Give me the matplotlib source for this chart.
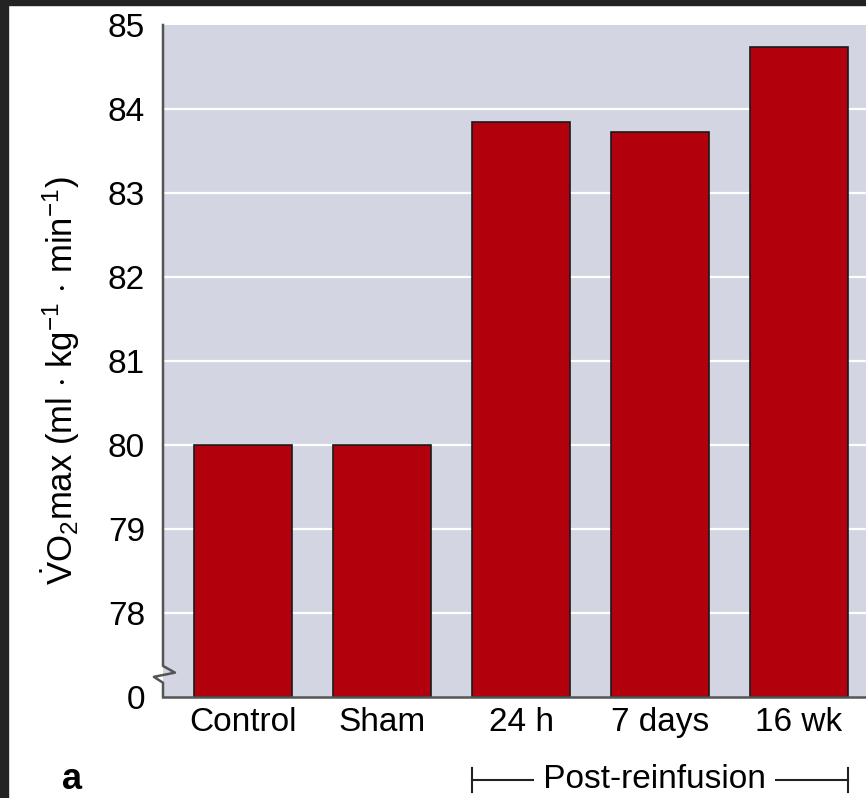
import matplotlib
matplotlib.use("Agg")
import matplotlib.pyplot as plt
import matplotlib.transforms as mtransforms
from matplotlib.patches import Rectangle
from matplotlib.lines import Line2D

plt.rcParams["font.family"] = ["Liberation Sans", "DejaVu Sans"]
plt.rcParams["mathtext.fontset"] = "custom"
plt.rcParams["mathtext.rm"] = "Liberation Sans"
plt.rcParams["mathtext.it"] = "Liberation Sans:italic"
plt.rcParams["mathtext.bf"] = "Liberation Sans:bold"

categories = ["Control", "Sham", "24 h", "7 days", "16 wk"]
vo2max = [80.0, 80.0, 83.85, 83.73, 84.74]
ytick_values = [77, 78, 79, 80, 81, 82, 83, 84, 85]
ytick_labels = ["0", "78", "79", "80", "81", "82", "83", "84", "85"]

BAR_COLOR = "#b2000d"
BG_COLOR = "#d3d5e2"
SPINE_COLOR = "#555555"
BAR_WIDTH = 0.705
BASE = 77
FS = 24

fig = plt.figure(figsize=(8.66, 7.98), dpi=100)
ax = fig.add_axes([163/866, 1-697/798, 1-163/866, (697-25)/798])
ax.set_facecolor(BG_COLOR)

x = list(range(len(categories)))
heights = [v - BASE for v in vo2max]
ax.bar(x, heights, bottom=BASE, width=BAR_WIDTH, color=BAR_COLOR,
       edgecolor="#1a1a1a", linewidth=1.2, zorder=3)

ax.set_ylim(77, 85)
ax.set_xlim(-0.576, 4.482)
ax.set_yticks(ytick_values)
ax.set_yticklabels(ytick_labels)
ax.set_xticks(x)
ax.set_xticklabels(categories)
ax.tick_params(axis="both", length=0, labelsize=FS)
ax.tick_params(axis="y", pad=13)
ax.tick_params(axis="x", pad=7)

# white grid lines (not at the top edge)
for v in ytick_values[1:-1]:
    ax.axhline(v, color="white", linewidth=1.6, zorder=1)

for s in ["top", "right", "left"]:
    ax.spines[s].set_visible(False)
ax.spines["bottom"].set_color(SPINE_COLOR)
ax.spines["bottom"].set_linewidth(1.8)
ax.spines["bottom"].set_zorder(4)

# left spine with a break mark between 78 and 0
trans = mtransforms.blended_transform_factory(ax.transAxes, ax.transData)
ax.add_line(Line2D([0, 0, 0.017, -0.013, 0, 0],
                   [85, 77.37, 77.29, 77.24, 77.17, 77],
                   transform=trans, color=SPINE_COLOR, linewidth=1.8,
                   clip_on=False, zorder=5))

ax.set_ylabel(r"$\dot{\mathrm{V}}\mathrm{O_2max}$ (ml $\cdot$ kg$^{-1}$ $\cdot$ min$^{-1}$)",
              fontsize=25)
ax.yaxis.set_label_coords(-0.115, 0.47)

# post-reinfusion bracket
btrans = mtransforms.blended_transform_factory(ax.transData, ax.transAxes)
x0 = x[2] - BAR_WIDTH / 2
x1 = x[4] + BAR_WIDTH / 2
yb = -0.1235
ax.add_line(Line2D([x0, x1], [yb, yb], transform=btrans, color="#222222",
                   linewidth=1.5, clip_on=False))
for xe in (x0, x1):
    ax.add_line(Line2D([xe, xe], [yb - 0.018, yb + 0.018], transform=btrans,
                       color="#222222", linewidth=1.5, clip_on=False))
ax.text((x0 + x1) / 2 - 0.04, yb, " Post-reinfusion ", transform=btrans,
        ha="center", va="center", fontsize=FS,
        bbox=dict(facecolor="white", edgecolor="none", pad=0))

fig.text(72/866, 1-789/798, "a", fontsize=26, fontweight="bold",
         ha="center", va="baseline")

# dark frame on top and left edges
fig.patches.append(Rectangle((0, 1-5/798), 1, 5/798, transform=fig.transFigure,
                             color="#232323", zorder=10))
fig.patches.append(Rectangle((0, 0), 8/866, 1, transform=fig.transFigure,
                             color="#232323", zorder=10))

plt.savefig("out.png", dpi=100)
